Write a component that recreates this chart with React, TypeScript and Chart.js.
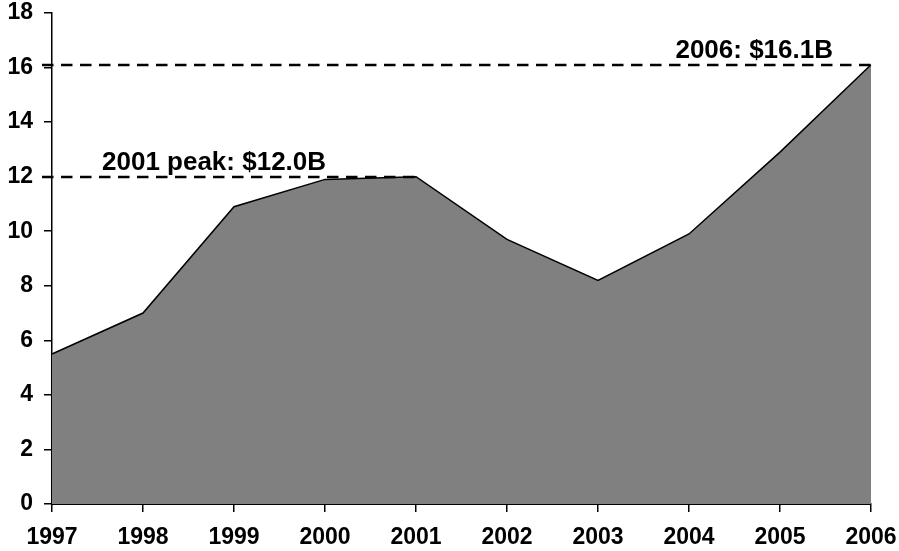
import React, { useEffect, useRef } from "react";
import { Chart, registerables } from "chart.js";

Chart.register(...registerables);

// Annual values, $ billions
const years = ["1997", "1998", "1999", "2000", "2001", "2002", "2003", "2004", "2005", "2006"];
const values = [5.5, 7.0, 10.9, 11.9, 12.0, 9.7, 8.2, 9.9, 12.9, 16.1];
const yTicks = [0, 2, 4, 6, 8, 10, 12, 14, 16, 18];

// Reference lines with their captions
const peakYear = "2001";
const peakValue = 12.0;
const peakLabel = "2001 peak: $12.0B";
const latestYear = "2006";
const latestValue = 16.1;
const latestLabel = "2006: $16.1B";

const FONT = '"Liberation Sans", Arial, Helvetica, sans-serif';

const referenceLines = {
  id: "referenceLines",
  afterDatasetsDraw(chart: any) {
    const { ctx, chartArea, scales } = chart;
    const x = scales.x;
    const y = scales.y;
    const startX = chartArea.left - 10;

    const drawLine = (year: string, value: number) => {
      const px = x.getPixelForValue(years.indexOf(year));
      const py = Math.round(y.getPixelForValue(value));
      ctx.save();
      ctx.strokeStyle = "#000";
      ctx.lineWidth = 2.5;
      ctx.setLineDash([11.5, 7.5]);
      ctx.beginPath();
      ctx.moveTo(startX, py);
      ctx.lineTo(px, py);
      ctx.stroke();
      ctx.restore();
      return { px, py };
    };

    const peak = drawLine(peakYear, peakValue);
    const latest = drawLine(latestYear, latestValue);

    ctx.save();
    ctx.fillStyle = "#000";
    ctx.font = `bold 26px ${FONT}`;
    ctx.textBaseline = "alphabetic";
    ctx.textAlign = "left";
    ctx.fillText(peakLabel, chartArea.left + 50, peak.py - 7);
    ctx.textAlign = "right";
    ctx.fillText(latestLabel, latest.px - 38, latest.py - 7);
    ctx.restore();
  },
};

export default function App() {
  const canvasRef = useRef<HTMLCanvasElement | null>(null);

  useEffect(() => {
    const canvas = canvasRef.current;
    if (!canvas) return;
    const chart = new Chart(canvas, {
      type: "line",
      data: {
        labels: years,
        datasets: [
          {
            data: values,
            fill: "origin",
            backgroundColor: "#808080",
            borderColor: "#000",
            borderWidth: 1.5,
            pointRadius: 0,
            tension: 0,
          },
        ],
      },
      options: {
        responsive: false,
        animation: false,
        devicePixelRatio: 1,
        layout: { padding: { top: 13, right: 28, left: 0, bottom: 0 } },
        plugins: {
          legend: { display: false },
          tooltip: { enabled: false },
        },
        scales: {
          x: {
            type: "category",
            offset: false,
            border: { color: "#000", width: 2 },
            grid: {
              display: true,
              offset: false,
              drawOnChartArea: false,
              drawTicks: true,
              tickLength: 8,
              color: "#000",
              lineWidth: 1.5,
            },
            ticks: {
              color: "#000",
              font: { family: FONT, size: 23, weight: "bold" },
              padding: 12,
              maxRotation: 0,
              autoSkip: false,
            },
            afterFit(scale: any) {
              scale.height = 47;
              scale.paddingLeft = 0;
              scale.paddingRight = 0;
            },
          },
          y: {
            min: 0,
            max: 18,
            border: { color: "#000", width: 1.5 },
            grid: {
              display: true,
              drawOnChartArea: false,
              drawTicks: true,
              tickLength: 8,
              color: "#000",
              lineWidth: 1.5,
            },
            afterBuildTicks(scale: any) {
              scale.ticks = yTicks.map((v) => ({ value: v }));
            },
            ticks: {
              color: "#000",
              font: { family: FONT, size: 23, weight: "bold" },
              padding: 11,
            },
            afterFit(scale: any) {
              scale.width = 52;
              scale.paddingTop = 0;
              scale.paddingBottom = 0;
            },
          },
        },
      },
      plugins: [referenceLines],
    } as any);
    return () => chart.destroy();
  }, []);

  return (
    <div style={{ position: "fixed", left: 0, top: 0, width: 899, height: 551, background: "#fff" }}>
      <canvas ref={canvasRef} width={899} height={551} />
    </div>
  );
}
